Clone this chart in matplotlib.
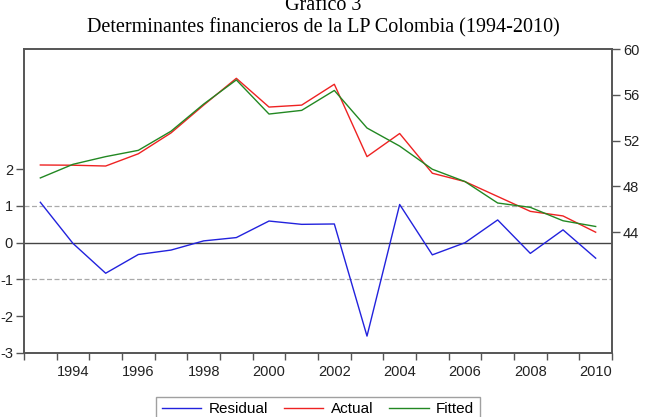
import matplotlib
matplotlib.use("Agg")
import matplotlib.pyplot as plt
from matplotlib.ticker import FixedLocator, NullFormatter

plt.rcParams["axes.unicode_minus"] = False

# Data (annual, 1993-2010)
years = list(range(1993, 2011))
residual = [1.10, -0.02, -0.83, -0.32, -0.20, 0.05, 0.14, 0.59, 0.50, 0.51,
            -2.54, 1.04, -0.33, 0.00, 0.62, -0.29, 0.35, -0.42]
actual = [49.87, 49.85, 49.78, 50.85, 52.67, 55.10, 57.44, 54.93, 55.10, 56.92,
          50.60, 52.62, 49.15, 48.42, 47.12, 45.82, 45.42, 44.00]
fitted = [48.74, 49.93, 50.60, 51.15, 52.82, 55.19, 57.30, 54.32, 54.64, 56.38,
          53.10, 51.52, 49.50, 48.42, 46.55, 46.17, 45.00, 44.50]

left_ticks = [-3, -2, -1, 0, 1, 2]
right_ticks = [44, 48, 52, 56, 60]
label_years = [1994, 1996, 1998, 2000, 2002, 2004, 2006, 2008, 2010]

W, H = 646, 417
fig = plt.figure(figsize=(W / 100, H / 100), dpi=100)
ax = fig.add_axes([24 / W, (H - 353) / H, (612 - 24) / W, (353 - 49) / H])
ax2 = ax.twinx()

frame_col = "#555555"
tick_font = {"family": "Liberation Sans", "size": 10.5}

# residual axis (left)
ax.axhline(0, color="#444444", lw=1.0, zorder=1)
for v in (-1, 1):
    ax.axhline(v, color="#aaaaaa", lw=0.9, ls=(0, (4, 2)), zorder=1)
ax.plot(years, residual, color="#2222dd", lw=1.0, zorder=3)
ax.set_ylim(-3, 5.27)
ax.set_yticks(left_ticks)
ax.set_xlim(1992.5, 2010.5)

# actual / fitted axis (right)
ax2.plot(years, actual, color="#ee2222", lw=1.0)
ax2.plot(years, fitted, color="#228822", lw=1.0)
ax2.set_ylim(33.45, 59.85)
ax2.set_yticks(right_ticks)

# x ticks between observations, labels centred on the years
ax.xaxis.set_major_locator(FixedLocator([y + 0.5 for y in range(1992, 2011)]))
ax.xaxis.set_major_formatter(NullFormatter())
ax.xaxis.set_minor_locator(FixedLocator(label_years))
ax.set_xticklabels([str(y) for y in label_years], minor=True)
ax.tick_params(axis="x", which="major", length=5, width=1, color=frame_col)
ax.tick_params(axis="x", which="minor", length=0, pad=9)

ax.tick_params(axis="y", length=6, width=1, color=frame_col, pad=2)
ax2.tick_params(axis="y", length=6, width=1, color=frame_col, pad=2)

for a in (ax, ax2):
    for lab in a.get_xticklabels(minor=True) + a.get_yticklabels():
        lab.set_fontfamily(tick_font["family"])
        lab.set_fontsize(tick_font["size"])
        lab.set_color("#222222")
    for s in a.spines.values():
        s.set_color(frame_col)
        s.set_linewidth(1.2)

fig.text(0.5, 1 - 5 / H, "Gráfico 3", ha="center", va="center",
         family="Liberation Serif", fontsize=14.5)
fig.text(0.5, 1 - 28 / H, "Determinantes financieros de la LP Colombia (1994-2010)",
         ha="center", va="center", family="Liberation Serif", fontsize=14.5)

h1, = ax.plot([], [], color="#2222dd", lw=1.0, label="Residual")
h2, = ax.plot([], [], color="#ee2222", lw=1.0, label="Actual")
h3, = ax.plot([], [], color="#228822", lw=1.0, label="Fitted")
leg = fig.legend(handles=[h1, h2, h3], loc="upper center",
                 bbox_to_anchor=(318 / W, 1 - 397 / H), ncol=3, frameon=True,
                 fancybox=False, edgecolor="#888888", handlelength=2.6,
                 columnspacing=1.0, handletextpad=0.5, borderpad=0.35,
                 borderaxespad=0, prop={"family": "Liberation Sans", "size": 11})
leg.get_frame().set_linewidth(1.0)

fig.savefig("out.png", dpi=100)
